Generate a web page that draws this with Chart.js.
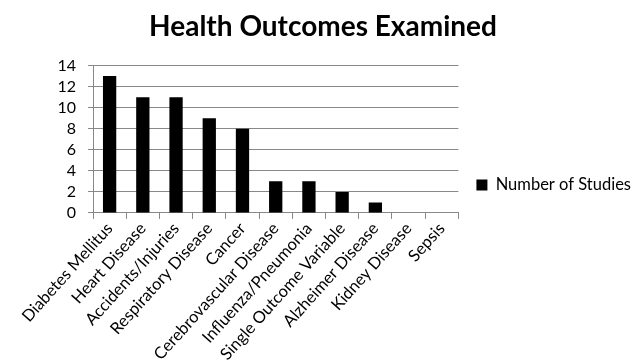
<!DOCTYPE html>
<html>
<head>
<meta charset="utf-8">
<script src="https://cdn.jsdelivr.net/npm/chart.js@4/dist/chart.umd.min.js"></script>
<style>
  body { margin: 0; background: #fff; }
  #wrap { width: 641px; height: 364px; }
</style>
</head>
<body>
<div id="wrap"><canvas id="grafico"></canvas></div>
<script>
const categorias = ['Diabetes Mellitus', 'Heart Disease', 'Accidents/Injuries', 'Respiratory Disease', 'Cancer',
  'Cerebrovascular Disease', 'Influenza/Pneumonia', 'Single Outcome Variable', 'Alzheimer Disease', 'Kidney Disease', 'Sepsis'];
const estudios = [13, 11, 11, 9, 8, 3, 3, 2, 1, 0, 0];
const serieNombre = 'Number of Studies';
const titulo = 'Health Outcomes Examined';

const ctx = document.getElementById('grafico').getContext('2d');
Chart.defaults.font.family = 'Lato, "Open Sans", sans-serif';
Chart.defaults.color = '#000';

new Chart(ctx, {
  type: 'bar',
  data: {
    labels: categorias,
    datasets: [{
      label: serieNombre,
      data: estudios,
      backgroundColor: '#000',
      borderWidth: 0,
      barPercentage: 0.4,
      categoryPercentage: 1
    }]
  },
  options: {
    responsive: true,
    maintainAspectRatio: false,
    animation: false,
    layout: { padding: { left: 5, right: 0, top: 6, bottom: 0 } },
    plugins: {
      title: {
        display: true,
        text: titulo,
        font: { size: 28, weight: 'bold' },
        padding: { top: 4, bottom: 22 }
      },
      legend: {
        position: 'right',
        maxWidth: 200,
        labels: {
          boxWidth: 11,
          boxHeight: 11,
          padding: 18,
          font: { size: 16.5 }
        }
      },
      tooltip: { enabled: false }
    },
    scales: {
      x: {
        grid: { offset: true, drawOnChartArea: false, tickLength: 6, color: '#888' },
        border: { color: '#888' },
        ticks: { maxRotation: 48, minRotation: 48, autoSkip: false, font: { size: 16.5 }, padding: 0 }
      },
      y: {
        min: 0,
        max: 14,
        afterFit: (scale) => { scale.width = 88; },
        ticks: { stepSize: 2, autoSkip: false, font: { size: 16 }, padding: 12 },
        grid: { color: '#888', tickLength: 5 },
        border: { color: '#888' }
      }
    }
  }
});
</script>
</body>
</html>
